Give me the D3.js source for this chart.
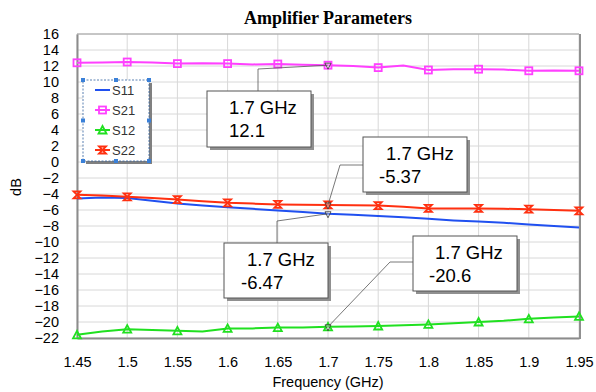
<!DOCTYPE html>
<html>
<head>
<meta charset="utf-8">
<script src="https://cdn.jsdelivr.net/npm/d3@7"></script>
<style>
  body { margin: 0; background: #fff; }
  svg { display: block; font-family: Arial, "Liberation Sans", sans-serif; }
</style>
</head>
<body>
<svg id="chart" width="596" height="392"></svg>
<script>
// frequency points (GHz)
const freq = d3.range(21).map(i => 1.45 + i * 0.025);
const s11 = [-4.55, -4.45, -4.5, -4.85, -5.2, -5.45, -5.65, -5.85, -6.05, -6.25, -6.47, -6.6, -6.75, -6.9, -7.1, -7.3, -7.45, -7.6, -7.8, -8.0, -8.2];
const s21 = [12.4, 12.45, 12.5, 12.45, 12.3, 12.35, 12.3, 12.2, 12.25, 12.15, 12.1, 12.0, 11.8, 12.05, 11.5, 11.6, 11.6, 11.55, 11.4, 11.45, 11.4];
const s12 = [-21.6, -21.2, -20.9, -21.0, -21.1, -21.2, -20.8, -20.8, -20.7, -20.7, -20.6, -20.55, -20.5, -20.4, -20.3, -20.15, -20.0, -19.85, -19.6, -19.45, -19.3];
const s22 = [-4.1, -4.2, -4.35, -4.5, -4.7, -4.9, -5.1, -5.2, -5.3, -5.35, -5.37, -5.4, -5.45, -5.6, -5.8, -5.8, -5.8, -5.85, -5.9, -6.0, -6.1];
const xTicks = d3.range(11).map(i => 1.45 + i * 0.05);
const yTicks = d3.range(-22, 17, 2);

const series = [
  { name: 'S11', values: s11, color: '#2050f0', marker: null },
  { name: 'S21', values: s21, color: '#ff40ff', marker: 'square' },
  { name: 'S12', values: s12, color: '#20e020', marker: 'triangle' },
  { name: 'S22', values: s22, color: '#ff3010', marker: 'hourglass' }
];

// callouts at 1.7 GHz
const callouts = [
  { s: 'S21', f: 1.7, v: 12.1, box: [207, 91, 104, 56], text: [229, 229], elbow: [[258, 91], [258, 69]] },
  { s: 'S22', f: 1.7, v: -5.37, box: [363, 137, 104, 55], text: [386, 379], elbow: [[363, 165], [340, 165]] },
  { s: 'S11', f: 1.7, v: -6.47, box: [224, 243, 104, 55], text: [247, 241], elbow: [[277, 243], [277, 221]] },
  { s: 'S12', f: 1.7, v: -20.6, box: [413, 236, 104, 55], text: [435, 429], elbow: [[413, 262], [390, 262]] }
];

const svg = d3.select('#chart');
const margin = { left: 77, right: 16, top: 34, bottom: 54 };
const W = 596, H = 392;

const x = d3.scaleLinear().domain([1.45, 1.95]).range([margin.left, W - margin.right - 1]);
const y = d3.scaleLinear().domain([-22, 16]).range([H - margin.bottom, margin.top]);

// title
svg.append('text')
  .attr('x', 328).attr('y', 24)
  .attr('text-anchor', 'middle')
  .style('font-family', '"Liberation Serif", "Times New Roman", serif')
  .style('font-weight', 'bold')
  .style('font-size', '18px')
  .text('Amplifier Parameters');

// grid
const grid = svg.append('g');
grid.selectAll('.gx').data(xTicks).join('line')
  .attr('x1', d => x(d)).attr('x2', d => x(d))
  .attr('y1', y(16)).attr('y2', y(-22))
  .attr('stroke', '#d8d8d8').attr('stroke-width', 1);
grid.selectAll('.gy').data(yTicks).join('line')
  .attr('x1', x(1.45)).attr('x2', x(1.95))
  .attr('y1', d => y(d)).attr('y2', d => y(d))
  .attr('stroke', '#d8d8d8').attr('stroke-width', 1);

// frame
svg.append('line').attr('x1', x(1.45)).attr('x2', x(1.95)).attr('y1', y(16)).attr('y2', y(16))
  .attr('stroke', '#a0a0a0');
svg.append('line').attr('x1', x(1.95) + 1).attr('x2', x(1.95) + 1).attr('y1', y(16)).attr('y2', y(-22) + 1)
  .attr('stroke', '#909090').attr('stroke-width', 2);

// axes
const xAxis = svg.append('g')
  .attr('transform', `translate(0,${y(-22)})`)
  .call(d3.axisBottom(x).tickValues(xTicks).tickSize(0).tickPadding(19).tickFormat(d3.format('')));
const yAxis = svg.append('g')
  .attr('transform', `translate(${x(1.45)},0)`)
  .call(d3.axisLeft(y).tickValues(yTicks).tickSize(0).tickPadding(18));
[xAxis, yAxis].forEach(a => {
  a.select('.domain').attr('stroke', '#8c8c8c').attr('stroke-width', 2);
  a.selectAll('text').style('font-family', 'Arial, "Liberation Sans", sans-serif')
    .style('font-size', '14.5px').attr('fill', '#000');
});
xAxis.selectAll('text').text(d => +d.toFixed(2));

svg.append('text').attr('x', 328).attr('y', 387).attr('text-anchor', 'middle')
  .style('font-size', '14.5px').text('Frequency (GHz)');
svg.append('text').attr('transform', 'translate(21,187) rotate(-90)').attr('text-anchor', 'middle')
  .style('font-size', '14.5px').text('dB');

// markers
function drawMarker(g, type, cx, cy, color) {
  const r = 3.5;
  if (type === 'square') {
    g.append('rect').attr('x', cx - r).attr('y', cy - r).attr('width', 2 * r).attr('height', 2 * r)
      .attr('fill', 'none').attr('stroke', color).attr('stroke-width', 1.8);
  } else if (type === 'triangle') {
    g.append('path').attr('d', `M${cx - r - 0.5},${cy + r}L${cx + r + 0.5},${cy + r}L${cx},${cy - r - 0.5}Z`)
      .attr('fill', 'none').attr('stroke', color).attr('stroke-width', 1.8);
  } else if (type === 'hourglass') {
    g.append('path').attr('d', `M${cx - r},${cy - r}L${cx + r},${cy - r}L${cx - r},${cy + r}L${cx + r},${cy + r}Z`)
      .attr('fill', 'none').attr('stroke', color).attr('stroke-width', 1.8);
  }
}

const plot = svg.append('g');
const line = d3.line().x(d => x(d[0])).y(d => y(d[1]));
series.forEach(s => {
  const pts = freq.map((f, i) => [f, s.values[i]]);
  plot.append('path').datum(pts).attr('d', line)
    .attr('fill', 'none').attr('stroke', s.color).attr('stroke-width', 2);
  if (s.marker) {
    pts.filter((p, i) => i % 2 === 0).forEach(p => drawMarker(plot, s.marker, x(p[0]), y(p[1]), s.color));
  }
});

// callouts
callouts.forEach(c => {
  const g = svg.append('g');
  const px = x(c.f), py = y(c.v);
  const pts = c.elbow.concat([[px, py]]);
  g.append('path').attr('d', d3.line()(pts)).attr('fill', 'none').attr('stroke', '#555').attr('stroke-width', 0.8);
  g.append('path').attr('d', `M${px - 3},${py - 2}L${px + 3},${py - 2}L${px},${py + 4}Z`)
    .attr('fill', '#fff').attr('fill-opacity', 0.3).attr('stroke', '#333').attr('stroke-width', 0.8);
  const [bx, by, bw, bh] = c.box;
  g.append('rect').attr('x', bx + 3).attr('y', by + 3).attr('width', bw).attr('height', bh).attr('fill', '#909090');
  g.append('rect').attr('x', bx).attr('y', by).attr('width', bw).attr('height', bh)
    .attr('fill', '#fff').attr('stroke', '#555').attr('stroke-width', 1);
  g.append('text').attr('x', c.text[0]).attr('y', by + 23).style('font-size', '18.5px').text(c.f + ' GHz');
  g.append('text').attr('x', c.text[1]).attr('y', by + 46).style('font-size', '18.5px').text(c.v);
});

// legend
const lg = svg.append('g');
const lx = 83, ly = 80, lw = 66, lh = 81;
lg.append('rect').attr('x', lx + 3).attr('y', ly + 3).attr('width', lw).attr('height', lh).attr('fill', '#808080');
lg.append('rect').attr('x', lx).attr('y', ly).attr('width', lw).attr('height', lh).attr('fill', '#fff')
  .attr('stroke', '#3060a0').attr('stroke-width', 0.8).attr('stroke-dasharray', '2,1.5');
[[0, 0], [0.5, 0], [1, 0], [0, 0.5], [1, 0.5], [0, 1], [0.5, 1], [1, 1]].forEach(([fx, fy]) => {
  lg.append('rect').attr('x', lx + fx * lw - 2).attr('y', ly + fy * lh - 2).attr('width', 4).attr('height', 4)
    .attr('fill', '#3a80d8');
});
series.forEach((s, i) => {
  const yy = ly + 10 + i * 20;
  lg.append('line').attr('x1', 95).attr('x2', 110).attr('y1', yy).attr('y2', yy)
    .attr('stroke', s.color).attr('stroke-width', 2);
  if (s.marker) drawMarker(lg, s.marker, 102.5, yy, s.color);
  lg.append('text').attr('x', 112).attr('y', yy + 4.5).style('font-size', '13px').attr('fill', '#333').text(s.name);
});
</script>
</body>
</html>
